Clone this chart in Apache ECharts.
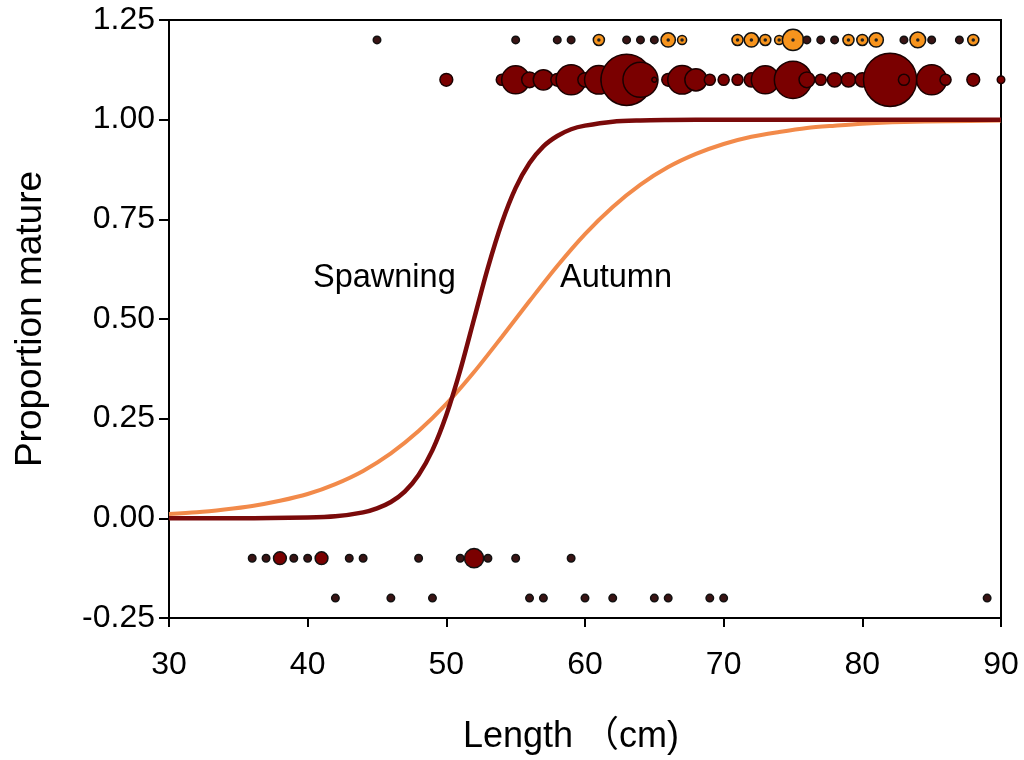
<!DOCTYPE html>
<html>
<head>
<meta charset="utf-8">
<script src="https://cdn.jsdelivr.net/npm/echarts@6/dist/echarts.min.js"></script>
<style>html,body{margin:0;padding:0;background:#fff;}#c{width:1024px;height:760px;}</style>
</head>
<body>
<div id="c"></div>
<script>
// ---- data ----
// fitted curves (proportion mature vs length)
var spawnCurveX = [30,35,40,42,44,45,46,47,48,49,50,51,52,53,54,55,56,57,58,59,60,62,64,66,70,80,90];
var spawnCurveY = [0.000,0.000,0.002,0.005,0.015,0.025,0.041,0.067,0.109,0.171,0.259,0.371,0.500,0.629,0.741,0.829,0.891,0.933,0.959,0.976,0.985,0.995,0.998,0.999,1.000,1.000,1.000];
var autumnCurveX = [30,32,34,36,38,40,42,44,46,48,50,52,54,56,58,60,62,64,66,68,70,72,74,76,78,80,83,86,90];
var autumnCurveY = [0.011,0.015,0.022,0.031,0.044,0.061,0.086,0.119,0.163,0.219,0.287,0.367,0.455,0.545,0.633,0.713,0.781,0.837,0.881,0.914,0.939,0.957,0.969,0.979,0.985,0.990,0.994,0.996,0.998];

// observation rows (lengths and sample counts)
var spawnMatureLen = [50,54,55,56,57,58,59,60,61,62,63,64,65,66,67,68,69,70,71,72,73,75,76,77,78,79,80,82,83,85,86,88,90];
var spawnMatureN   = [4,3,19,6,10,4,22,5,20,13,64,30,0.5,4,20,12,3,3,3,5,19,34,6,3,5,5,5,69,3,22,3,4,1];
var autumnMatureLen = [45,55,58,59,61,63,64,65,66,67,71,72,73,74,75,76,77,78,79,80,81,83,84,85,87,88];
var autumnMatureN   = [1,1,1,1,3,1,1,1,5,2,3,5,3,2,11,1,1,1,3,3,5,1,6,1,1,3];
var spawnImmatureLen = [36,37,38,39,40,41,43,44,48,51,52,53,55,59];
var spawnImmatureN   = [1,1,4,1,1,4,1,1,1,1,9,1,1,1];
var autumnImmatureLen = [42,46,49,56,57,60,62,65,66,69,70,89];
var autumnImmatureN   = [1,1,1,1,1,1,1,1,1,1,1,1];

var rowY = {autumnMature:1.2, spawnMature:1.1, spawnImmature:-0.1, autumnImmature:-0.2};
var xTicks = {min:30, max:90, interval:10};
var yTicks = {min:-0.25, max:1.25, interval:0.25};

// ---- build ----
function pairs(xs, ys){ return xs.map(function(x,i){ return [x, ys[i]]; }); }
function rowData(lens, ns, y){ return lens.map(function(x,i){ return [x, y, ns[i]]; }); }

var FONT = "'Liberation Sans', Arial, 'Noto Sans CJK SC', sans-serif";
var DARK = '#7A0000', ORANGE = '#F7941D', DOT = '#3a1414';

function bubbleSize(v){ return v[2] <= 1 ? (v[2] < 1 ? 5 : 7.5) : 6.4 * Math.sqrt(v[2]); }
function bubbleColor(base){
  return function(p){ return p.value[2] === 1 ? DOT : base; };
}

var chart = echarts.init(document.getElementById('c'), null, {renderer:'canvas'});
var option = {
  animation:false,
  backgroundColor:'#fff',
  grid:{left:169, right:23, top:20, bottom:141, show:true, borderColor:'#000', borderWidth:2, backgroundColor:'transparent'},
  xAxis:{
    type:'value', min:xTicks.min, max:xTicks.max, interval:xTicks.interval,
    name:'Length \uFF08cm)', nameLocation:'middle', nameGap:101,
    nameTextStyle:{fontFamily:FONT, fontSize:36, color:'#000', padding:[0,28,0,0]},
    axisLine:{show:true, onZero:false, lineStyle:{color:'#000', width:2}},
    axisTick:{show:true, inside:false, length:9, lineStyle:{color:'#000', width:2}},
    axisLabel:{fontFamily:FONT, fontSize:32, color:'#000', margin:31},
    splitLine:{show:false}
  },
  yAxis:{
    type:'value', min:yTicks.min, max:yTicks.max, interval:yTicks.interval,
    name:'Proportion mature', nameLocation:'middle', nameGap:120,
    nameTextStyle:{fontFamily:FONT, fontSize:37, color:'#000'},
    axisLine:{show:true, onZero:false, lineStyle:{color:'#000', width:2}},
    axisTick:{show:true, inside:false, length:10, lineStyle:{color:'#000', width:2}},
    axisLabel:{fontFamily:FONT, fontSize:32, color:'#000', margin:14,
      formatter:function(v){ return v.toFixed(2); }},
    splitLine:{show:false}
  },
  graphic:[
    {type:'text', left:313, top:262, style:{text:'Spawning', fontFamily:FONT, fontSize:32.5, fill:'#000'}},
    {type:'text', left:560, top:262, style:{text:'Autumn', fontFamily:FONT, fontSize:32.5, fill:'#000'}}
  ],
  series:[
    {type:'line', name:'Autumn', data:pairs(autumnCurveX, autumnCurveY), smooth:0.3,
      showSymbol:false, lineStyle:{color:'#F28A4A', width:4}, z:2},
    {type:'line', name:'Spawning', data:pairs(spawnCurveX, spawnCurveY), smooth:0.3,
      showSymbol:false, lineStyle:{color:'#7A0A0A', width:4.5}, z:3},
    {type:'scatter', data:rowData(autumnMatureLen, autumnMatureN, rowY.autumnMature),
      symbolSize:bubbleSize, itemStyle:{color:bubbleColor(ORANGE), borderColor:'#111', borderWidth:1.5, opacity:1}, z:4},
    {type:'scatter', data:rowData(autumnMatureLen, autumnMatureN, rowY.autumnMature).filter(function(d){return d[2]>1;}),
      symbolSize:3.5, itemStyle:{color:'#222', opacity:1}, z:5, silent:true},
    {type:'scatter', data:rowData(spawnMatureLen, spawnMatureN, rowY.spawnMature),
      symbolSize:bubbleSize, itemStyle:{color:DARK, borderColor:'#1a0000', borderWidth:1.5, opacity:1}, z:4},
    {type:'scatter', data:rowData(spawnImmatureLen, spawnImmatureN, rowY.spawnImmature),
      symbolSize:bubbleSize, itemStyle:{color:bubbleColor(DARK), borderColor:'#111', borderWidth:1.5, opacity:1}, z:4},
    {type:'scatter', data:rowData(autumnImmatureLen, autumnImmatureN, rowY.autumnImmature),
      symbolSize:bubbleSize, itemStyle:{color:DOT, borderColor:'#111', borderWidth:1.5, opacity:1}, z:4}
  ]
};
chart.setOption(option);
</script>
</body>
</html>
